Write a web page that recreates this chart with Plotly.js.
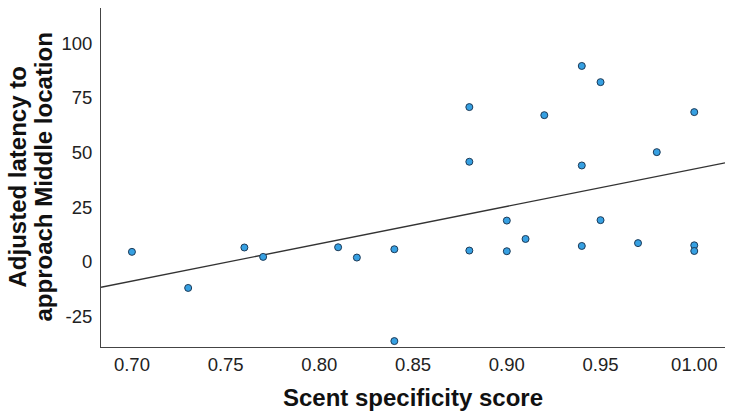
<!DOCTYPE html>
<html>
<head>
<meta charset="utf-8">
<script src="https://cdn.plot.ly/plotly-3.0.1.min.js"></script>
<style>html,body{margin:0;padding:0;background:#fff;}#chart{width:733px;height:418px;}</style>
</head>
<body>
<div id="chart"></div>
<script>
// Scent specificity score (x) vs adjusted latency (y)
const scentScore = [0.70, 0.73, 0.76, 0.77, 0.81, 0.82, 0.84, 0.84, 0.88, 0.88, 0.88, 0.90, 0.90, 0.91, 0.92, 0.94, 0.94, 0.94, 0.95, 0.95, 0.97, 0.98, 1.00, 1.00, 1.00];
const adjLatency = [4.6, -11.9, 6.6, 2.3, 6.7, 2.0, 5.8, -36.2, 5.2, 45.8, 70.8, 4.9, 18.9, 10.5, 67.1, 7.3, 44.1, 89.6, 19.1, 82.2, 8.6, 50.2, 7.6, 5.0, 68.5];
const xTickVals = [0.70, 0.75, 0.80, 0.85, 0.90, 0.95, 1.00];
const xTickText = ["0.70", "0.75", "0.80", "0.85", "0.90", "0.95", "01.00"];
const yTickVals = [-25, 0, 25, 50, 75, 100];
const yTickText = ["-25", "0", "25", "50", "75", "100"];

const xRange = [0.6835, 1.0164];
const yRange = [-38.9, 116.1];

// OLS fit line from the data
const n = scentScore.length;
const mx = scentScore.reduce((a, b) => a + b, 0) / n;
const my = adjLatency.reduce((a, b) => a + b, 0) / n;
let sxy = 0, sxx = 0;
for (let i = 0; i < n; i++) { sxy += (scentScore[i] - mx) * (adjLatency[i] - my); sxx += (scentScore[i] - mx) ** 2; }
const slope = sxy / sxx, intercept = my - slope * mx;
const fitX = xRange.slice();
const fitY = fitX.map(x => intercept + slope * x);

const FONT = "Liberation Sans, Arial, sans-serif";

const data = [
  { x: fitX, y: fitY, type: "scatter", mode: "lines", line: { color: "#333333", width: 1.4 }, hoverinfo: "skip", showlegend: false },
  { x: scentScore, y: adjLatency, type: "scatter", mode: "markers",
    marker: { size: 7, color: "#36A0E2", line: { color: "#1d3a57", width: 1 } }, showlegend: false }
];

const layout = {
  width: 733, height: 418,
  margin: { l: 101, r: 8, t: 8, b: 71 },
  paper_bgcolor: "#ffffff", plot_bgcolor: "#ffffff",
  font: { family: FONT, color: "#222222" },
  xaxis: {
    range: xRange, showgrid: false, zeroline: false, showline: true, linecolor: "#444444", linewidth: 1,
    tickmode: "array", tickvals: xTickVals, ticktext: xTickText, ticks: "", ticklabelstandoff: 1,
    tickfont: { size: 18.5, family: FONT, color: "#222222" },
    title: { text: "Scent specificity score", font: { size: 24, family: FONT, color: "#111111", weight: "bold" }, standoff: 14 }
  },
  yaxis: {
    range: yRange, showgrid: false, zeroline: false, showline: true, linecolor: "#444444", linewidth: 1,
    tickmode: "array", tickvals: yTickVals, ticktext: yTickText, ticks: "", ticklabelstandoff: 4,
    tickfont: { size: 18.5, family: FONT, color: "#222222" }
  },
  annotations: [
    { text: "<b>Adjusted latency to</b>", textangle: -90, xref: "paper", yref: "paper", x: (17 - 101) / 624, y: 0.5,
      xanchor: "center", yanchor: "middle", showarrow: false, font: { size: 24, family: FONT, color: "#111111" } },
    { text: "<b>approach Middle location</b>", textangle: -90, xref: "paper", yref: "paper", x: (43 - 101) / 624, y: 0.5,
      xanchor: "center", yanchor: "middle", showarrow: false, font: { size: 24, family: FONT, color: "#111111" } }
  ]
};

Plotly.newPlot("chart", data, layout, { displayModeBar: false, staticPlot: true });
</script>
</body>
</html>
